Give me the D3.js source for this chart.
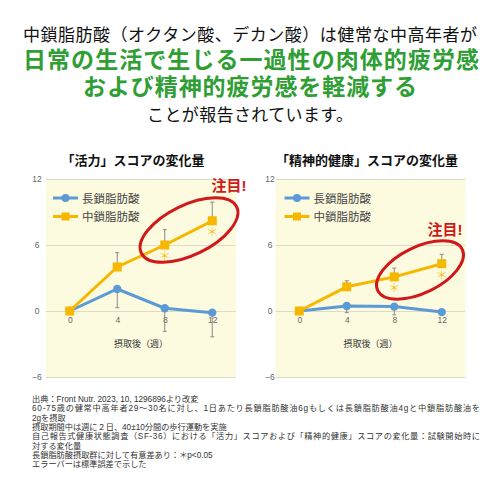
<!DOCTYPE html>
<html>
<head>
<meta charset="utf-8">
<script src="https://cdn.jsdelivr.net/npm/d3@7"></script>
<style>
  body { margin: 0; background: #fff; }
  svg { display: block; font-family: "Liberation Sans", "Noto Sans CJK JP", sans-serif; }
  .tick-label { fill: #666; font-size: 8.5px; }
  .legend-label { fill: #444; font-size: 11.5px; }
  .foot { fill: #333; font-size: 8.2px; }
</style>
</head>
<body>
<svg id="chart" width="500" height="500"></svg>
<script>
// data
var weeks = [0, 4, 8, 12];
var yTicks = [-6, 0, 6, 12];
var seriesNames = ["長鎖脂肪酸", "中鎖脂肪酸"];

var vitalityLong = [0, 2.0, 0.25, -0.15];
var vitalityLongErr = [0, 1.7, 2.1, 2.2];
var vitalityMedium = [0, 4.0, 6.0, 8.2];
var vitalityMediumErr = [0, 1.3, 1.4, 1.7];

var mentalLong = [0, 0.45, 0.4, -0.1];
var mentalLongErr = [0, 0.6, 0.75, 0];
var mentalMedium = [0, 2.2, 3.1, 4.3];
var mentalMediumErr = [0, 0.55, 0.8, 0.85];

var significant = [false, false, true, true];

var headLines = [
  "中鎖脂肪酸（オクタン酸、デカン酸）は健常な中高年者が",
  "日常の生活で生じる一過性の肉体的疲労感",
  "および精神的疲労感を軽減する",
  "ことが報告されています。"
];

var footLines = [
  "出典：Front Nutr. 2023, 10, 1296896より改変",
  "60-75歳の健常中高年者29～30名に対し、1日あたり長鎖脂肪酸油6gもしくは長鎖脂肪酸油4gと中鎖脂肪酸油を",
  "2gを摂取",
  "摂取期間中は週に２日、40±10分間の歩行運動を実施",
  "自己報告式健康状態調査（SF-36）における「活力」スコアおよび「精神的健康」スコアの変化量：試験開始時に",
  "対する変化量",
  "長鎖脂肪酸摂取群に対して有意差あり：＊p<0.05",
  "エラーバーは標準誤差で示した"
];

const blue = "#5b9bd5", orange = "#f5b700", red = "#d0191b", green = "#2f9e34";

const svg = d3.select("#chart");
svg.append("rect").attr("width", 500).attr("height", 500).attr("fill", "#fff");

// headline
svg.append("text").attr("x", 250).attr("y", 41).attr("text-anchor", "middle")
  .attr("font-size", 17).attr("fill", "#111").attr("textLength", 454)
  .text(headLines[0]);
svg.append("text").attr("x", 251).attr("y", 68).attr("text-anchor", "middle")
  .attr("font-size", 23).attr("font-weight", "bold").attr("fill", green).attr("textLength", 456)
  .text(headLines[1]);
svg.append("text").attr("x", 250).attr("y", 95).attr("text-anchor", "middle")
  .attr("font-size", 23).attr("font-weight", "bold").attr("fill", green).attr("textLength", 334)
  .text(headLines[2]);
svg.append("text").attr("x", 250).attr("y", 121).attr("text-anchor", "middle")
  .attr("font-size", 17).attr("fill", "#111").attr("textLength", 206)
  .text(headLines[3]);

function drawPanel(p) {
  const x = d3.scaleLinear().domain([-2, 14]).range([p.left, p.left + 190]);
  const y = d3.scaleLinear().domain([-6, 12]).range([377, 179]);
  const g = svg.append("g");

  g.append("rect").attr("x", x(-2)).attr("y", y(12)).attr("width", x(14) - x(-2))
    .attr("height", y(-6) - y(12) + 1).attr("fill", "#fdfbdf");

  // title
  g.append("text").attr("x", p.titleX).attr("y", 165).attr("text-anchor", "middle")
    .attr("font-size", 13).attr("font-weight", "bold").attr("fill", "#111")
    .text(p.title);

  // y grid + labels
  const yAxis = d3.axisLeft(y).tickValues(yTicks).tickSize(-(x(14) - x(-2))).tickPadding(0);
  const ya = g.append("g").attr("transform", `translate(${x(-2)},0)`).call(yAxis);
  ya.select(".domain").remove();
  ya.attr("font-family", null);
  ya.selectAll("line").attr("stroke", "#dedbc8").attr("stroke-width", 1);
  ya.selectAll("text").attr("class", "tick-label").attr("text-anchor", "middle")
    .attr("x", p.yLabelX - x(-2));

  // x tick labels (on the zero line)
  const xAxis = d3.axisBottom(x).tickValues(weeks).tickSize(0).tickPadding(6);
  const xa = g.append("g").attr("transform", `translate(0,${y(0)})`).call(xAxis);
  xa.select(".domain").remove();
  xa.attr("font-family", null);
  xa.selectAll("text").attr("class", "tick-label");

  g.append("text").attr("x", x(6)).attr("y", 347).attr("text-anchor", "middle")
    .attr("font-size", 9).attr("fill", "#333").text("摂取後（週）");

  const data = weeks.map((w, i) => ({
    w, lo: p.long[i], loErr: p.longErr[i], mid: p.medium[i], midErr: p.mediumErr[i], sig: significant[i]
  }));

  // error bars: long chain downward, medium chain upward
  const bars = g.selectAll(".err").data(data.filter(d => d.w > 0)).enter().append("g");
  bars.append("line").attr("x1", d => x(d.w)).attr("x2", d => x(d.w))
    .attr("y1", d => y(d.lo)).attr("y2", d => y(d.lo - d.loErr))
    .attr("stroke", "#8a8a8a").attr("stroke-width", 1);
  bars.append("line").attr("x1", d => x(d.w) - 2).attr("x2", d => x(d.w) + 2)
    .attr("y1", d => y(d.lo - d.loErr)).attr("y2", d => y(d.lo - d.loErr))
    .attr("stroke", "#8a8a8a").attr("stroke-width", 1);
  bars.append("line").attr("x1", d => x(d.w)).attr("x2", d => x(d.w))
    .attr("y1", d => y(d.mid)).attr("y2", d => y(d.mid + d.midErr))
    .attr("stroke", "#8a8a8a").attr("stroke-width", 1);
  bars.append("line").attr("x1", d => x(d.w) - 2).attr("x2", d => x(d.w) + 2)
    .attr("y1", d => y(d.mid + d.midErr)).attr("y2", d => y(d.mid + d.midErr))
    .attr("stroke", "#8a8a8a").attr("stroke-width", 1);

  // lines
  g.append("path").datum(data)
    .attr("d", d3.line().x(d => x(d.w)).y(d => y(d.lo)))
    .attr("fill", "none").attr("stroke", blue).attr("stroke-width", 3);
  g.selectAll(".dot").data(data).enter().append("circle")
    .attr("cx", d => x(d.w)).attr("cy", d => y(d.lo)).attr("r", 4.2).attr("fill", blue);

  g.append("path").datum(data)
    .attr("d", d3.line().x(d => x(d.w)).y(d => y(d.mid)))
    .attr("fill", "none").attr("stroke", orange).attr("stroke-width", 3);
  g.selectAll(".sq").data(data).enter().append("rect")
    .attr("x", d => x(d.w) - 4.5).attr("y", d => y(d.mid) - 4.5)
    .attr("width", 9).attr("height", 9).attr("fill", orange);

  // significance marks
  g.selectAll(".ast").data(data.filter(d => d.sig)).enter().append("text")
    .attr("x", d => x(d.w)).attr("y", d => y(d.mid) + 16).attr("text-anchor", "middle")
    .attr("font-family", "Noto Sans CJK JP").attr("font-weight", 300)
    .attr("font-size", 12).attr("fill", orange).text("＊");

  // legend
  seriesNames.forEach((name, i) => {
    const ly = 198 + i * 18.5;
    const lx = x(-2) + p.legendDx;
    g.append("line").attr("x1", lx).attr("x2", lx + 25).attr("y1", ly).attr("y2", ly)
      .attr("stroke", i ? orange : blue).attr("stroke-width", 3);
    if (i) g.append("rect").attr("x", lx + 8.5).attr("y", ly - 4).attr("width", 8).attr("height", 8).attr("fill", orange);
    else g.append("circle").attr("cx", lx + 12.5).attr("cy", ly).attr("r", 4).attr("fill", blue);
    g.append("text").attr("class", "legend-label").attr("x", lx + 29).attr("y", ly + 4.5).text(name);
  });

  // highlight
  g.append("ellipse").attr("cx", p.ell[0]).attr("cy", p.ell[1]).attr("rx", p.ell[2]).attr("ry", p.ell[3])
    .attr("transform", `rotate(-26, ${p.ell[0]}, ${p.ell[1]})`)
    .attr("fill", "none").attr("stroke", red).attr("stroke-width", 3);
  g.append("text").attr("x", p.note[0]).attr("y", p.note[1]).attr("text-anchor", "middle")
    .attr("font-size", 15).attr("font-weight", "bold").attr("fill", red).text("注目!");
}

drawPanel({
  left: 46, title: "「活力」スコアの変化量", titleX: 133, yLabelX: 37, legendDx: 7,
  long: vitalityLong, longErr: vitalityLongErr, medium: vitalityMedium, mediumErr: vitalityMediumErr,
  ell: [189, 230, 53, 25], note: [229, 191]
});
drawPanel({
  left: 275.5, title: "「精神的健康」スコアの変化量", titleX: 367, yLabelX: 270, legendDx: 9,
  long: mentalLong, longErr: mentalLongErr, medium: mentalMedium, mediumErr: mentalMediumErr,
  ell: [420, 270, 47, 23], note: [445, 235]
});

// notes
svg.selectAll(".foot").data(footLines).enter().append("text")
  .attr("class", "foot").attr("x", 32).attr("y", (d, i) => 402 + i * 9.35)
  .attr("textLength", d => d.length > 50 ? 448 : null)
  .text(d => d);
</script>
</body>
</html>
